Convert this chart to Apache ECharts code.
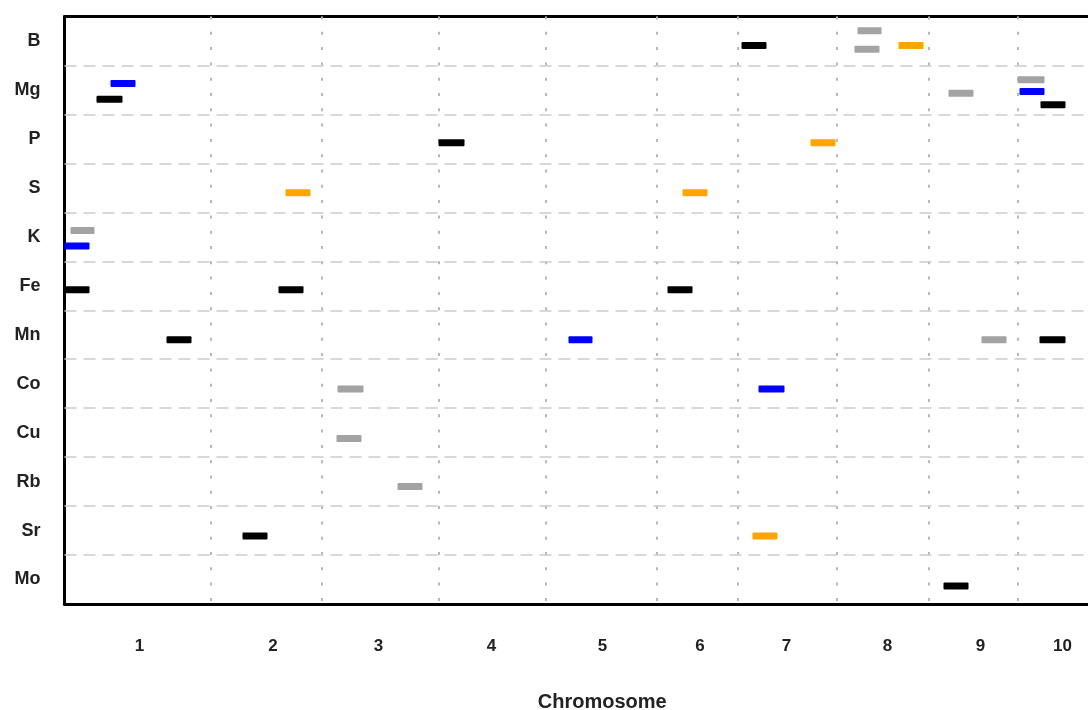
<!DOCTYPE html>
<html>
<head>
<meta charset="utf-8">
<script src="https://cdn.jsdelivr.net/npm/echarts@6/dist/echarts.min.js"></script>
<style>
  html, body { margin: 0; padding: 0; background: #fff; }
  #chart { width: 1088px; height: 710px; }
</style>
</head>
<body>
<div id="chart"></div>
<script>
// Elements (rows, top to bottom)
const elements = ['B', 'Mg', 'P', 'S', 'K', 'Fe', 'Mn', 'Co', 'Cu', 'Rb', 'Sr', 'Mo'];
// Chromosome tick labels and their positions along the genome axis (approx. Mb)
const chromosomes = ['1', '2', '3', '4', '5', '6', '7', '8', '9', '10'];
const chromLabelPos = [150, 417, 628, 854, 1076, 1271, 1444, 1646, 1832, 1996];
// Chromosome boundaries (approx. Mb, cumulative)
const chromBounds = [292, 514, 748, 962, 1184, 1346, 1544, 1728, 1906];
// End of the genome axis (plot continues past the right edge of the picture)
const axisEnd = 2151;

// Segments: [start, end, row position] (row position in row units, 0 = top)
const blackSegs = [
  [1354, 1404, 0.59], [64, 116, 1.69], [1952, 2002, 1.80], [748, 800, 2.58],
  [2, 50, 5.58], [428, 478, 5.58], [1206, 1256, 5.58],
  [204, 254, 6.60], [1950, 2002, 6.60], [356, 406, 10.61], [1758, 1808, 11.63]
];
const blueSegs = [
  [92, 142, 1.37], [1910, 1960, 1.53], [0, 50, 4.69], [1008, 1056, 6.60], [1388, 1440, 7.61]
];
const graySegs = [
  [1586, 1634, 0.29], [1580, 1630, 0.67], [1768, 1818, 1.57], [1906, 1960, 1.29],
  [12, 60, 4.37], [1834, 1884, 6.60], [546, 598, 7.61], [544, 594, 8.62], [666, 716, 9.60]
];
const orangeSegs = [
  [1668, 1718, 0.59], [1492, 1542, 2.58], [442, 492, 3.60], [1236, 1286, 3.60], [1376, 1426, 10.61]
];

function segSeries(name, data, color) {
  return {
    name: name,
    type: 'custom',
    z: 5,
    data: data,
    encode: { x: [0, 1], y: 2 },
    renderItem: function (params, api) {
      const s = api.coord([api.value(0), api.value(2)]);
      const e = api.coord([api.value(1), api.value(2)]);
      return {
        type: 'rect',
        shape: { x: s[0], y: s[1] - 3.5, width: e[0] - s[0], height: 7, r: 1 },
        style: { fill: color }
      };
    }
  };
}

const hLines = [];
for (let i = 1; i < elements.length; i++) hLines.push(i);

const fontFam = 'Liberation Sans, Arial, sans-serif';
const borderLine = { show: true, onZero: false, lineStyle: { color: '#000000', width: 3 } };

const chart = echarts.init(document.getElementById('chart'), null, { renderer: 'canvas' });
chart.setOption({
  animation: false,
  backgroundColor: '#ffffff',
  grid: {
    left: 64.5, top: 16.5, right: -52, bottom: 106,
    show: false,
    outerBoundsMode: 'none',
    containLabel: false
  },
  xAxis: [{
    type: 'value',
    position: 'bottom',
    min: 0,
    max: axisEnd,
    axisLine: borderLine,
    axisTick: { show: false },
    splitLine: { show: false },
    axisLabel: {
      show: true,
      customValues: chromLabelPos,
      formatter: function (v) {
        const i = chromLabelPos.indexOf(v);
        return i >= 0 ? chromosomes[i] : '';
      },
      margin: 34,
      fontFamily: fontFam,
      fontWeight: 'bold',
      fontSize: 17,
      color: '#222222'
    },
    name: 'Chromosome',
    nameLocation: 'middle',
    nameGap: 88,
    nameTextStyle: {
      fontFamily: fontFam,
      fontWeight: 'bold',
      fontSize: 20,
      color: '#222222'
    }
  }, {
    type: 'value',
    position: 'top',
    min: 0,
    max: axisEnd,
    axisLine: borderLine,
    axisTick: { show: false },
    axisLabel: { show: false },
    splitLine: { show: false }
  }],
  yAxis: [{
    type: 'value',
    inverse: true,
    min: 0,
    max: elements.length,
    interval: 1,
    axisLine: borderLine,
    axisTick: { show: false },
    axisLabel: { show: false },
    splitLine: { show: false }
  }, {
    type: 'category',
    inverse: true,
    data: elements,
    position: 'left',
    axisLine: { show: false },
    axisTick: { show: false },
    splitLine: { show: false },
    axisLabel: {
      margin: 24,
      fontFamily: fontFam,
      fontWeight: 'bold',
      fontSize: 18,
      color: '#222222'
    }
  }],
  series: [
    {
      name: 'grid lines',
      type: 'line',
      data: [],
      silent: true,
      z: 1,
      markLine: {
        silent: true,
        symbol: 'none',
        label: { show: false },
        emphasis: { disabled: true },
        data: chromBounds.map(function (v) {
          return { xAxis: v, lineStyle: { type: [3, 12.3], color: '#b8b8b8', width: 2 } };
        }).concat(hLines.map(function (v) {
          return { yAxis: v, lineStyle: { type: [12, 7], color: '#cccccc', width: 1.5 } };
        }))
      }
    },
    segSeries('Black', blackSegs, '#000000'),
    segSeries('Blue', blueSegs, '#0000ff'),
    segSeries('Gray', graySegs, '#a3a3a3'),
    segSeries('Orange', orangeSegs, '#ffa500')
  ]
});
</script>
</body>
</html>
